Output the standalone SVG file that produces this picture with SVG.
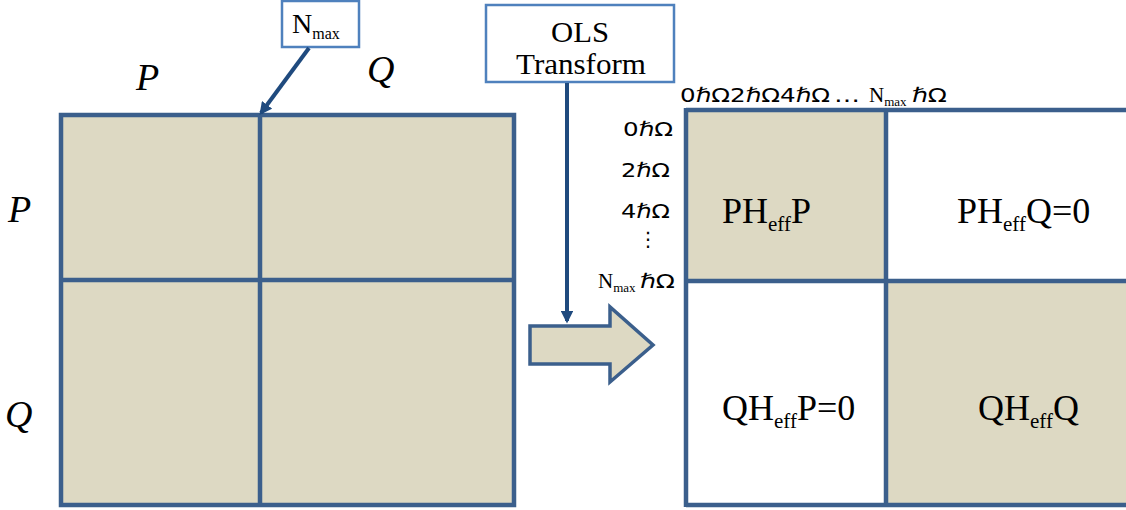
<svg xmlns="http://www.w3.org/2000/svg" width="1126" height="510" viewBox="0 0 1126 510">
<defs>
<style>
.grid{stroke:#3B5F8C;stroke-width:4.5;fill:none}
.fill{fill:#DDD9C3}
.box{fill:#fff;stroke:#4F81BD;stroke-width:2.5}
.serif{font-family:"Liberation Serif","Times New Roman",serif;fill:#000}
.ital{font-family:"Liberation Serif","Times New Roman",serif;font-style:italic;font-size:38px;fill:#000}
.sans{font-family:"DejaVu Sans",sans-serif;font-size:20px;fill:#000}
.cell{font-family:"Liberation Serif","Times New Roman",serif;font-size:36px;fill:#000}
.conn{stroke:#1F4A7E;stroke-width:4;fill:none}
</style>
<marker id="ah" viewBox="0 0 10 10" refX="8" refY="5" markerWidth="3.2" markerHeight="3.2" orient="auto" markerUnits="strokeWidth">
<path d="M0,0 L10,5 L0,10 z" fill="#1F4A7E"/>
</marker>
</defs>
<rect width="1126" height="510" fill="#fff"/>

<g id="left-matrix">
<rect class="fill" x="61" y="115" width="453" height="390"/>
<rect class="grid" x="61" y="115" width="453" height="390"/>
<line class="grid" x1="260" y1="115" x2="260" y2="505"/>
<line class="grid" x1="61" y1="280" x2="514" y2="280"/>
<text class="ital" x="136" y="90">P</text>
<text class="ital" x="367" y="82">Q</text>
<text class="ital" x="8" y="222">P</text>
<text class="ital" x="5" y="427">Q</text>
</g>

<g id="nmax-box">
<rect class="box" x="282" y="1" width="77" height="46"/>
<text class="serif" x="292" y="33" font-size="28">N<tspan font-size="16" dy="6">max</tspan></text>
</g>

<g id="ols-box">
<rect class="box" x="486" y="5" width="188" height="77"/>
<text class="serif" x="551" y="42" font-size="29" textLength="58" lengthAdjust="spacingAndGlyphs">OLS</text>
<text class="serif" x="516" y="74" font-size="29" textLength="130" lengthAdjust="spacingAndGlyphs">Transform</text>
</g>

<g id="transform-arrow">
<path d="M530,326 L610,326 L610,307 L653,345 L610,382 L610,364 L530,364 Z" fill="#DDD9C3" stroke="#3B5F8C" stroke-width="3.5" stroke-linejoin="miter"/>
</g>

<g id="right-matrix">
<rect class="fill" x="686" y="110" width="200" height="171"/>
<rect class="fill" x="886" y="281" width="245" height="224"/>
<line class="grid" x1="686" y1="110" x2="1130" y2="110"/>
<line class="grid" x1="686" y1="505" x2="1130" y2="505"/>
<line class="grid" x1="686" y1="108" x2="686" y2="507"/>
<line class="grid" x1="886" y1="110" x2="886" y2="505"/>
<line class="grid" x1="686" y1="281" x2="1130" y2="281"/>
<text class="cell" x="722" y="223">PH<tspan font-size="21" dy="8">eff</tspan><tspan dy="-8">P</tspan></text>
<text class="cell" x="957" y="223">PH<tspan font-size="21" dy="8">eff</tspan><tspan dy="-8">Q=0</tspan></text>
<text class="cell" x="722" y="420">QH<tspan font-size="21" dy="8">eff</tspan><tspan dy="-8">P=0</tspan></text>
<text class="cell" x="978" y="420">QH<tspan font-size="21" dy="8">eff</tspan><tspan dy="-8">Q</tspan></text>
</g>

<g id="axis-labels">
<text class="sans" x="680" y="102" textLength="150" lengthAdjust="spacingAndGlyphs">0ℏΩ2ℏΩ4ℏΩ</text>
<text class="sans" x="834" y="102" textLength="26" lengthAdjust="spacingAndGlyphs">…</text>
<text class="serif" x="869" y="102" font-size="21">N<tspan font-size="13" dy="4">max</tspan></text>
<text class="sans" x="912" y="102" textLength="35" lengthAdjust="spacingAndGlyphs">ℏΩ</text>
<text class="sans" x="623" y="136" textLength="50" lengthAdjust="spacingAndGlyphs">0ℏΩ</text>
<text class="sans" x="621" y="177" textLength="49" lengthAdjust="spacingAndGlyphs">2ℏΩ</text>
<text class="sans" x="621" y="218" textLength="49" lengthAdjust="spacingAndGlyphs">4ℏΩ</text>
<text class="sans" x="648" y="246" text-anchor="middle">⋮</text>
<text class="serif" x="598" y="288" font-size="21">N<tspan font-size="13" dy="4">max</tspan></text>
<text class="sans" x="640" y="288" textLength="35" lengthAdjust="spacingAndGlyphs">ℏΩ</text>
</g>

<g id="connectors">
<line class="conn" x1="309" y1="48" x2="261" y2="113" marker-end="url(#ah)"/>
<line class="conn" x1="567" y1="83" x2="567" y2="321" marker-end="url(#ah)"/>
</g>
</svg>
